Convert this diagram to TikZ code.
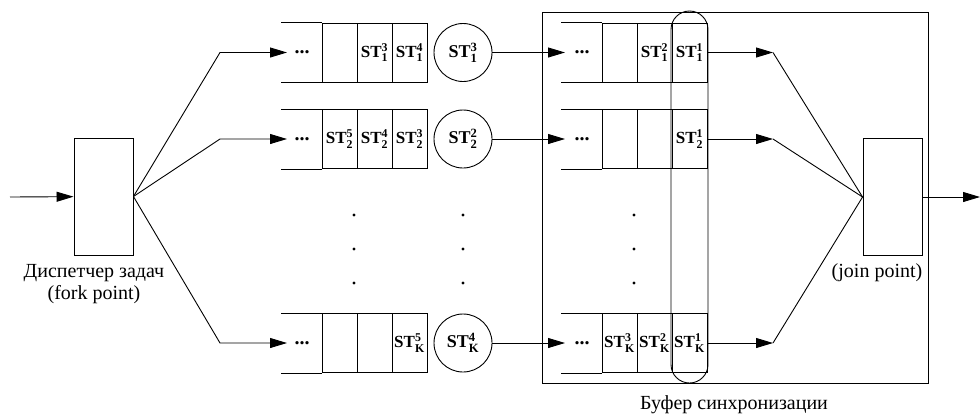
\documentclass[tikz,border=0pt]{standalone}
\usepackage{amsmath}
\usepackage{fontspec}
\setmainfont{Liberation Serif}
\usetikzlibrary{arrows.meta}

\newcommand{\st}[2]{\textbf{ST}$^{\textbf{#2}}_{\textbf{#1}}$}

\tikzset{
  cell/.style={draw, minimum width=35pt, minimum height=59pt, inner sep=0pt, font=\fontsize{17}{20}\selectfont},
  task/.style={draw, circle, minimum size=58pt, inner sep=0pt, font=\fontsize{18}{20}\selectfont},
  proc/.style={draw, minimum width=59pt, minimum height=117pt},
  arr/.style={-{Triangle[length=17pt,width=10pt]}},
  lbl/.style={font=\fontsize{20}{22}\selectfont, align=center},
  qdots/.style={font=\fontsize{20}{20}\selectfont\bfseries, inner sep=0pt},
}

\begin{document}
\begin{tikzpicture}[x=1pt, y=-1pt, line width=0.9pt]
\useasboundingbox (0,0) rectangle (980,418);
% fork / join
\node[proc] (fork) at (103.5,196.5) {};
\node[proc] (join) at (892.5,197) {};
\node[lbl] (forklbl) at (94,284) {Диспетчер задач\\(fork point)};
\node[lbl] (joinlbl) at (877,273) {(join point)};
\coordinate (in) at (10,197);
\coordinate (out) at (980,197);
\draw[arr] (in) -- (fork);
\draw[arr] (join) -- (out);
% buffer
\node[draw, minimum width=386pt, minimum height=371pt] (buf) at (735,197.5) {};
\node[draw, rounded corners=18.5pt, minimum width=37pt, minimum height=372pt] (sync) at (689.5,197) {};
\node[lbl] (buflbl) at (734,405) {Буфер синхронизации};
% queues, tasks
\foreach \r/\y/\a/\b/\c/\t/\d/\e/\f in {
  1/52.5/{}/{\st{1}{3}}/{\st{1}{4}}/{\st{1}{3}}/{}/{\st{1}{2}}/{\st{1}{1}},
  2/139/{\st{2}{5}}/{\st{2}{4}}/{\st{2}{3}}/{\st{2}{2}}/{}/{}/{\st{2}{1}},
  K/343/{}/{}/{\st{K}{5}}/{\st{K}{4}}/{\st{K}{3}}/{\st{K}{2}}/{\st{K}{1}}}{
  % left queue
  \node[cell] (q\r a) at (339.5,\y) {\a};
  \node[cell] (q\r b) at (374.5,\y) {\b};
  \node[cell] (q\r c) at (409.5,\y) {\c};
  \draw (q\r a.north west) -- +(-41,0) (q\r a.south west) -- +(-41,0);
  \node[qdots] (q\r dots) at (302,\y) {...};
  \coordinate (q\r in) at (287,\y);
  \coordinate (b\r) at (220,\y);
  \draw[arr] (fork.east) -- (b\r) -- (q\r in);
  % task
  \node[task] (t\r) at (463,\y) {\t};
  % buffer queue
  \node[cell] (s\r a) at (619.5,\y) {\d};
  \node[cell] (s\r b) at (654.5,\y) {\e};
  \node[cell] (s\r c) at (689.5,\y) {\f};
  \draw (s\r a.north west) -- +(-41,0) (s\r a.south west) -- +(-41,0);
  \node[qdots] (s\r dots) at (582,\y) {...};
  \coordinate (s\r in) at (565,\y);
  \draw[arr] (t\r) -- (s\r in);
  \coordinate (o\r) at (773,\y);
  \draw[arr] (s\r c.east) -- (o\r);
  \draw (o\r) -- (join.west);
}
% vertical dots
\foreach \x in {354,463,634}
  \foreach \y in {215,249,283}
    \fill (\x,\y) circle (1.6pt);
\end{tikzpicture}
\end{document}
